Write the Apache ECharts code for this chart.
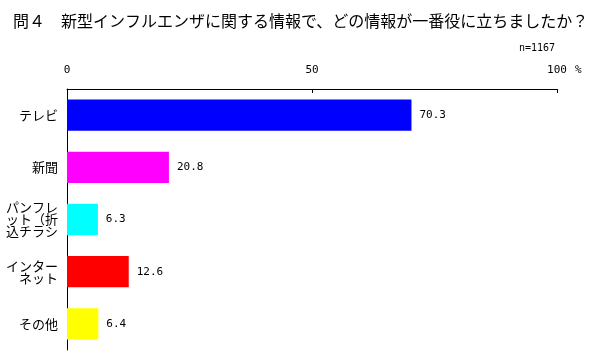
<!DOCTYPE html>
<html><head><meta charset="utf-8">
<script src="https://cdn.jsdelivr.net/npm/echarts@6/dist/echarts.min.js"></script>
<style>html,body{margin:0;padding:0;background:#fff}#c{width:600px;height:358px}</style>
</head><body><div id="c"></div>
<script>
const categories = ["テレビ", "新聞", "パンフレット（折込チラシ", "インターネット", "その他"];
const values = [70.3, 20.8, 6.3, 12.6, 6.4];
const colors = ["#0000FF", "#FF00FF", "#00FFFF", "#FF0000", "#FFFF00"];
const xTicks = [0, 50, 100];
const titleText = "問４　新型インフルエンザに関する情報で、どの情報が一番役に立ちましたか？";
const nText = "n=1167";

const chart = echarts.init(document.getElementById('c'));
chart.setOption({
  animation: false,
  textStyle: { fontFamily: "Noto Sans CJK JP" },
  title: [
    { text: titleText, left: 8, top: 8, textStyle: { fontSize: 16, fontWeight: 'normal', color: '#000', fontFamily: "Noto Sans CJK JP" } },
    { text: nText, left: 514, top: 38, textStyle: { fontSize: 10, fontWeight: 'normal', color: '#000', fontFamily: "DejaVu Sans Mono" } }
  ],
  graphic: [
    { type: 'text', x: 575, y: 70, style: { text: '%', fontSize: 11, fill: '#000', fontFamily: "DejaVu Sans Mono", verticalAlign: 'middle', align: 'left' } }
  ],
  grid: { left: 67, right: 43, top: 89, bottom: 8 },
  xAxis: {
    type: 'value', position: 'top', min: xTicks[0], max: xTicks[xTicks.length - 1], interval: 50,
    axisLine: { show: true, lineStyle: { color: '#000', width: 1 } },
    axisTick: { show: true, inside: true, length: 4, lineStyle: { color: '#000' } },
    axisLabel: { color: '#000', fontSize: 11, margin: 13, fontFamily: "DejaVu Sans Mono" },
    splitLine: { show: false }
  },
  yAxis: {
    type: 'category', data: categories, inverse: true,
    axisLine: { show: true, lineStyle: { color: '#000', width: 1 } },
    axisTick: { show: false },
    axisLabel: {
      color: '#000', fontSize: 13, margin: 9, lineHeight: 12, align: 'right',
      formatter: v => (v.match(/.{1,4}/g) || [v]).join('\n')
    }
  },
  series: [{
    type: 'bar', barWidth: '60%',
    data: values.map((v, i) => ({ value: v, itemStyle: { color: colors[i] } })),
    label: { show: true, position: 'right', distance: 8, color: '#000', fontSize: 11, fontFamily: "DejaVu Sans Mono", formatter: p => p.value.toFixed(1) }
  }]
});
</script></body></html>
